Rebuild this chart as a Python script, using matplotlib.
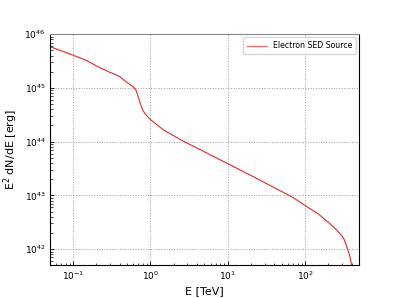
import numpy as np
import matplotlib
matplotlib.use('Agg')
import matplotlib.pyplot as plt

# Electron SED (E in TeV, E^2 dN/dE in erg)
energy = [0.05, 0.1, 0.15, 0.207, 0.3, 0.34, 0.4, 0.5, 0.55, 0.6, 0.62, 0.65,
          0.68, 0.7, 0.72, 0.75, 0.8, 0.85, 0.9, 1.0, 1.2, 1.5, 2.0, 2.5,
          5.0, 10.0, 20.0, 50.0, 70.0, 100.0, 150.0, 186.0, 200.0, 250.0,
          270.0, 302.0, 320.0, 340.0, 350.0, 360.0, 370.0, 380.0, 390.0,
          395.0, 400.0]
log_sed = [45.77, 45.61, 45.51, 45.40, 45.29, 45.26, 45.21, 45.10, 45.06,
           45.02, 45.00, 44.96, 44.88, 44.82, 44.76, 44.68, 44.58, 44.52,
           44.48, 44.41, 44.32, 44.21, 44.11, 44.03, 43.81, 43.59, 43.37,
           43.07, 42.96, 42.81, 42.65, 42.53, 42.50, 42.37, 42.32, 42.24,
           42.18, 42.08, 42.02, 41.97, 41.92, 41.86, 41.79, 41.74, 41.70]
sed = 10.0 ** np.array(log_sed)

fig, ax = plt.subplots(figsize=(3.99, 2.98), dpi=100)
fig.subplots_adjust(left=0.125, right=0.9, bottom=0.11, top=0.885)

ax.plot(energy, sed, color='#dd2a2a', lw=0.8, label='Electron SED Source')
ax.set_xscale('log')
ax.set_yscale('log')
ax.set_xlim(0.05, 500)
ax.set_ylim(5e41, 1e46)
ax.set_xlabel('E [TeV]', fontsize=8, labelpad=3)
ax.set_ylabel('E$^2$ dN/dE [erg]', fontsize=8, labelpad=3)
ax.tick_params(which='both', direction='in', labelsize=6.5, pad=3)
ax.tick_params(which='major', length=3, width=0.6)
ax.tick_params(which='minor', length=1.8, width=0.5)
ax.grid(True, which='major', ls=':', color='#999999', lw=0.7)
for s in ax.spines.values():
    s.set_linewidth(0.8)
ax.spines['top'].set_color('#888888')
leg = ax.legend(loc='upper right', fontsize=5.6, handlelength=2.5,
                borderpad=0.5, borderaxespad=0.4)
leg.get_lines()[0].set_color('#e87070')
leg.get_lines()[0].set_linewidth(1.0)

plt.savefig('out.png', dpi=100)
